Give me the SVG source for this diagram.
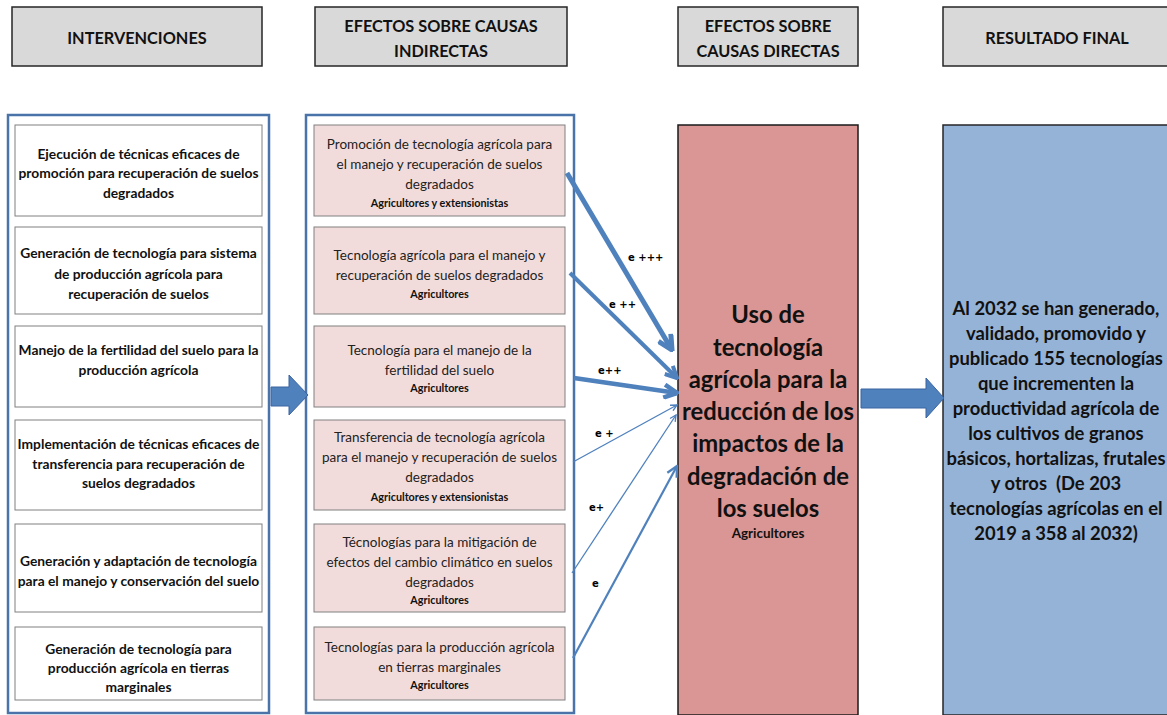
<svg xmlns="http://www.w3.org/2000/svg" width="1167" height="715" viewBox="0 0 1167 715">
<style>
.hdr{fill:#D9D9D9;stroke:#262626;stroke-width:1.5}
.ht{font-family:Lato,"Liberation Sans",sans-serif;font-weight:bold;font-size:16.3px;fill:#111;text-anchor:middle;dominant-baseline:central}
.outer{fill:#fff;stroke:#4A73AA;stroke-width:2.5}
.lbox{fill:#fff;stroke:#808080;stroke-width:1}
.mbox{fill:#F2DCDB;stroke:#808080;stroke-width:1}
.lt{font-family:Lato,"Liberation Sans",sans-serif;font-weight:bold;font-size:13.8px;fill:#111;text-anchor:middle;dominant-baseline:central}
.mt{font-family:Lato,"Liberation Sans",sans-serif;font-size:13.5px;fill:#222;text-anchor:middle;dominant-baseline:central}
.ms{font-family:Lato,"Liberation Sans",sans-serif;font-weight:bold;font-size:10.8px;fill:#111;text-anchor:middle;dominant-baseline:central}
.red{fill:#D99694;stroke:#1a1a1a;stroke-width:1.5}
.blue{fill:#95B3D7;stroke:#262626;stroke-width:1.5}
.rt{font-family:Lato,"Liberation Sans",sans-serif;font-weight:bold;font-size:23.8px;fill:#111;text-anchor:middle;dominant-baseline:central}
.rs{font-family:Lato,"Liberation Sans",sans-serif;font-weight:bold;font-size:13.4px;fill:#111;text-anchor:middle;dominant-baseline:central}
.bt{font-family:Lato,"Liberation Sans",sans-serif;font-weight:bold;font-size:18.4px;fill:#111;text-anchor:middle;dominant-baseline:central}
.conn{stroke:#4F81BD;fill:none}
.el{font-family:"DejaVu Sans",sans-serif;font-weight:bold;font-size:10px;fill:#000;dominant-baseline:central}
.big{fill:#4F81BD;stroke:#3B64A0;stroke-width:1}
</style>
<defs>
<marker id="open" viewBox="0 0 10 10" refX="9" refY="5" markerUnits="strokeWidth" markerWidth="3.6" markerHeight="3.6" orient="auto">
<path d="M1,1 L9,5 L1,9" fill="none" stroke="#4F81BD" stroke-width="2.8" stroke-linejoin="miter"/>
</marker>
<marker id="openThin" viewBox="0 0 10 10" refX="9" refY="5" markerUnits="strokeWidth" markerWidth="6" markerHeight="6" orient="auto">
<path d="M1,1 L9,5 L1,9" fill="none" stroke="#4F81BD" stroke-width="1.7"/>
</marker>
</defs>
<rect width="1167" height="715" fill="#fff"/>

<g id="h1"><rect class="hdr" x="12" y="7" width="250" height="59"/><text class="ht" x="137" y="37">INTERVENCIONES</text></g>
<g id="h2"><rect class="hdr" x="315" y="7" width="252" height="59"/><text class="ht" x="441" y="25">EFECTOS SOBRE CAUSAS</text><text class="ht" x="441" y="50">INDIRECTAS</text></g>
<g id="h3"><rect class="hdr" x="678" y="7" width="180" height="59"/><text class="ht" x="768" y="25">EFECTOS SOBRE</text><text class="ht" x="768" y="50">CAUSAS DIRECTAS</text></g>
<g id="h4"><rect class="hdr" x="943" y="7" width="230" height="59"/><text class="ht" x="1057" y="37">RESULTADO FINAL</text></g>

<g id="intervenciones">
<rect class="outer" x="8" y="115" width="261" height="598"/>
<g id="i1"><rect class="lbox" x="15" y="125" width="247" height="91"/>
<text class="lt" x="138.5" y="153">Ejecución de técnicas eficaces de</text>
<text class="lt" x="138.5" y="172">promoción para recuperación de suelos</text>
<text class="lt" x="138.5" y="192">degradados</text></g>
<g id="i2"><rect class="lbox" x="15" y="227" width="247" height="87"/>
<text class="lt" x="138.5" y="252">Generación de tecnología para sistema</text>
<text class="lt" x="138.5" y="273">de producción agrícola para</text>
<text class="lt" x="138.5" y="293">recuperación de suelos</text></g>
<g id="i3"><rect class="lbox" x="15" y="326" width="247" height="81"/>
<text class="lt" x="138.5" y="349">Manejo de la fertilidad del suelo para la</text>
<text class="lt" x="138.5" y="369">producción agrícola</text></g>
<g id="i4"><rect class="lbox" x="15" y="420" width="247" height="90"/>
<text class="lt" x="138.5" y="443">Implementación de técnicas eficaces de</text>
<text class="lt" x="138.5" y="463">transferencia para recuperación de</text>
<text class="lt" x="138.5" y="482">suelos degradados</text></g>
<g id="i5"><rect class="lbox" x="15" y="524" width="247" height="88"/>
<text class="lt" x="138.5" y="560">Generación y adaptación de tecnología</text>
<text class="lt" x="138.5" y="580">para el manejo y conservación del suelo</text></g>
<g id="i6"><rect class="lbox" x="15" y="627" width="247" height="73"/>
<text class="lt" x="138.5" y="648">Generación de tecnología para</text>
<text class="lt" x="138.5" y="667">producción agrícola en tierras</text>
<text class="lt" x="138.5" y="686">marginales</text></g>
</g>

<g id="indirectas">
<rect class="outer" x="306" y="115" width="268" height="598"/>
<g id="m1"><rect class="mbox" x="314" y="125" width="251" height="91"/>
<text class="mt" x="439.5" y="144">Promoción de tecnología agrícola para</text>
<text class="mt" x="439.5" y="164">el manejo y recuperación de suelos</text>
<text class="mt" x="439.5" y="184">degradados</text>
<text class="ms" x="439.5" y="202">Agricultores y extensionistas</text></g>
<g id="m2"><rect class="mbox" x="314" y="227" width="251" height="87"/>
<text class="mt" x="439.5" y="255">Tecnología agrícola para el manejo y</text>
<text class="mt" x="439.5" y="275">recuperación de suelos degradados</text>
<text class="ms" x="439.5" y="293">Agricultores</text></g>
<g id="m3"><rect class="mbox" x="314" y="326" width="251" height="81"/>
<text class="mt" x="439.5" y="350">Tecnología para el manejo de la</text>
<text class="mt" x="439.5" y="370">fertilidad del suelo</text>
<text class="ms" x="439.5" y="387">Agricultores</text></g>
<g id="m4"><rect class="mbox" x="314" y="420" width="251" height="90"/>
<text class="mt" x="439.5" y="437">Transferencia de tecnología agrícola</text>
<text class="mt" x="439.5" y="457">para el manejo y recuperación de suelos</text>
<text class="mt" x="439.5" y="477">degradados</text>
<text class="ms" x="439.5" y="496">Agricultores y extensionistas</text></g>
<g id="m5"><rect class="mbox" x="314" y="524" width="251" height="88"/>
<text class="mt" x="439.5" y="542">Técnologías para la mitigación de</text>
<text class="mt" x="439.5" y="562">efectos del cambio climático en suelos</text>
<text class="mt" x="439.5" y="582">degradados</text>
<text class="ms" x="439.5" y="599">Agricultores</text></g>
<g id="m6"><rect class="mbox" x="314" y="627" width="251" height="73"/>
<text class="mt" x="439.5" y="647">Tecnologías para la producción agrícola</text>
<text class="mt" x="439.5" y="667">en tierras marginales</text>
<text class="ms" x="439.5" y="684">Agricultores</text></g>
</g>

<g id="directa">
<rect class="red" x="678" y="125" width="180" height="590"/>
<text class="rt" x="768" y="314">Uso de</text>
<text class="rt" x="768" y="347">tecnología</text>
<text class="rt" x="768" y="379">agrícola para la</text>
<text class="rt" x="768" y="411">reducción de los</text>
<text class="rt" x="768" y="443">impactos de la</text>
<text class="rt" x="768" y="476">degradación de</text>
<text class="rt" x="768" y="508">los suelos</text>
<text class="rs" x="768" y="533">Agricultores</text>
</g>

<g id="resultado">
<rect class="blue" x="943" y="125" width="230" height="590"/>
<text class="bt" x="1056" y="308">Al 2032 se han generado,</text>
<text class="bt" x="1056" y="333">validado, promovido y</text>
<text class="bt" x="1056" y="358">publicado 155 tecnologías</text>
<text class="bt" x="1056" y="383">que incrementen la</text>
<text class="bt" x="1056" y="408">productividad agrícola de</text>
<text class="bt" x="1056" y="433">los cultivos de granos</text>
<text class="bt" x="1056" y="458">básicos, hortalizas, frutales</text>
<text class="bt" x="1056" y="483" xml:space="preserve">y otros  (De 203</text>
<text class="bt" x="1056" y="508">tecnologías agrícolas en el</text>
<text class="bt" x="1056" y="533">2019 a 358 al 2032)</text>
</g>

<g id="connectors">
<polygon class="big" points="271,387 289,387 289,375 308,395 289,415 289,406 271,406"/>
<polygon class="big" points="861,389 926,389 926,378 944,398 926,418 926,408 861,408"/>
<line class="conn" x1="567" y1="173" x2="672" y2="350" stroke-width="5" marker-end="url(#open)"/>
<line class="conn" x1="570" y1="273" x2="677" y2="378" stroke-width="4" marker-end="url(#open)"/>
<line class="conn" x1="574" y1="378" x2="677" y2="393" stroke-width="4.5" marker-end="url(#open)"/>
<line class="conn" x1="573" y1="462" x2="677" y2="405" stroke-width="1.3" marker-end="url(#openThin)"/>
<line class="conn" x1="572" y1="573" x2="676" y2="415" stroke-width="1.3" marker-end="url(#openThin)"/>
<line class="conn" x1="573" y1="658" x2="677" y2="466" stroke-width="2.2" marker-end="url(#openThin)"/>
<text class="el" x="628" y="257">e +++</text>
<text class="el" x="609" y="304">e ++</text>
<text class="el" x="598" y="370">e++</text>
<text class="el" x="595" y="433">e +</text>
<text class="el" x="589" y="507">e+</text>
<text class="el" x="592" y="583">e</text>
</g>
</svg>
